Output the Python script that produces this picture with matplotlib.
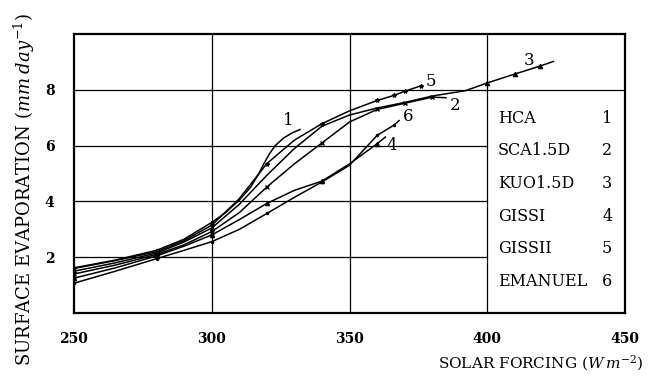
import matplotlib
matplotlib.use("Agg")
import matplotlib.pyplot as plt

plt.rcParams['font.family'] = ['DejaVu Serif']
plt.rcParams['mathtext.fontset'] = 'dejavuserif'

# values (solar forcing in W m-2, evaporation in mm/day)
x_hca = [250, 265, 280, 290, 300, 305, 310, 314, 317, 319, 321, 323, 326, 329, 332]
y_hca = [1.62, 1.9, 2.25, 2.65, 3.25, 3.6, 4.05, 4.5, 4.98, 5.37, 5.72, 6.0, 6.27, 6.45, 6.58]

x_sca = [250, 265, 280, 290, 300, 310, 320, 330, 340, 350, 360, 370, 380, 385]
y_sca = [1.4, 1.72, 2.1, 2.45, 2.92, 3.6, 4.52, 5.35, 6.1, 6.85, 7.3, 7.52, 7.74, 7.72]

x_kuo = [250, 265, 280, 290, 300, 310, 320, 330, 340, 350, 360, 370, 380, 392, 400, 410, 419, 424]
y_kuo = [1.5, 1.8, 2.15, 2.55, 3.05, 3.9, 4.94, 5.9, 6.7, 7.1, 7.35, 7.55, 7.78, 7.97, 8.25, 8.57, 8.85, 9.02]

x_gissi = [250, 265, 280, 290, 300, 310, 320, 330, 340, 350, 360, 363]
y_gissi = [1.25, 1.62, 2.05, 2.4, 2.8, 3.35, 3.93, 4.4, 4.73, 5.35, 6.07, 6.31]

x_gissii = [250, 265, 280, 290, 300, 310, 320, 330, 340, 350, 360, 366, 370, 376]
y_gissii = [1.6, 1.88, 2.2, 2.6, 3.15, 4.1, 5.36, 6.2, 6.79, 7.25, 7.62, 7.8, 7.95, 8.15]

x_eman = [250, 265, 280, 290, 300, 310, 320, 330, 340, 350, 360, 366, 368]
y_eman = [1.07, 1.5, 1.95, 2.25, 2.56, 3.0, 3.57, 4.15, 4.7, 5.3, 6.37, 6.73, 6.9]

models = ['HCA', 'SCA1.5D', 'KUO1.5D', 'GISSI', 'GISSII', 'EMANUEL']
curve_ids = ['1', '2', '3', '4', '5', '6']
# where each curve number is printed
label_x = [327.6, 388.3, 415.3, 365.2, 379.6, 371.3]
label_y = [6.9, 7.43, 9.04, 6.0, 8.29, 7.04]

series = [
    (x_hca, y_hca, '.', [0, 2, 4]),
    (x_sca, y_sca, 'x', [0, 2, 4, 6, 8, 10, 11, 12]),
    (x_kuo, y_kuo, '^', [0, 2, 4, 14, 15, 16]),
    (x_gissi, y_gissi, '^', [0, 2, 4, 6, 8, 10]),
    (x_gissii, y_gissii, '*', [0, 2, 4, 6, 8, 10, 11, 12, 13]),
    (x_eman, y_eman, '.', [0, 2, 4, 6, 8, 10, 11]),
]

fig = plt.figure(figsize=(6.53, 3.79), dpi=100)
ax = fig.add_axes([0.1133, 0.174, 0.844, 0.736])

for xs, ys, mk, every in series:
    ax.plot(xs, ys, color='black', lw=1.1, marker=mk, markersize=3,
            markevery=every, zorder=3)

for cid, lx, ly in zip(curve_ids, label_x, label_y):
    ax.text(lx, ly, cid, fontsize=12, ha='center', va='center', zorder=4)

# grid: the box on the right (legend area) interrupts the lower lines
for gx in [300, 350, 400]:
    ax.axvline(gx, color='black', lw=0.9, zorder=1)
ax.axhline(8, color='black', lw=0.9, zorder=1)
for gy in [2, 4, 6]:
    ax.plot([250, 400], [gy, gy], color='black', lw=0.9, zorder=1)

# legend block
leg_y = [6.96, 5.82, 4.64, 3.46, 2.32, 1.14]
for name, cid, ly in zip(models, curve_ids, leg_y):
    ax.text(403.8, ly, name, fontsize=11.5, ha='left', va='center')
    ax.text(443.5, ly, cid, fontsize=11.5, ha='center', va='center')

ax.set_xlim(250, 448)
ax.set_ylim(0, 10)
ax.set_xticks([250, 300, 350, 400, 450])
ax.set_yticks([2, 4, 6, 8])
ax.tick_params(length=0, labelsize=10)
ax.tick_params(axis='x', pad=14)
ax.tick_params(axis='y', pad=14)
for lab in ax.get_xticklabels() + ax.get_yticklabels():
    lab.set_fontweight('bold')
for sp in ax.spines.values():
    sp.set_linewidth(1.6)

fig.text(643 / 653, 1 - 363 / 379, r'SOLAR FORCING $(W\,m^{-2})$',
         ha='right', va='center', fontsize=11)
fig.text(24 / 653, 0.50, r'SURFACE EVAPORATION $(mm\;day^{-1})$',
         rotation=90, ha='center', va='center', fontsize=13)

fig.savefig('out.png', dpi=100)
